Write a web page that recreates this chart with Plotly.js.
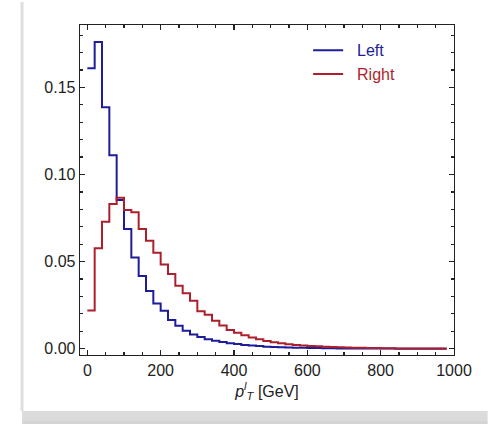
<!DOCTYPE html>
<html>
<head>
<meta charset="utf-8">
<script src="https://cdn.plot.ly/plotly-3.0.1.min.js"></script>
<style>html,body{margin:0;padding:0;background:#fff;}</style>
</head>
<body>
<div id="chart" style="width:489px;height:424px;"></div>
<script>
// Bin edges (GeV), 20 GeV bins
var binEdges = [0,20,40,60,80,100,120,140,160,180,200,220,240,260,280,300,320,340,360,380,
  400,420,440,460,480,500,520,540,560,580,600,620,640,660,680,700,720,740,760,780,
  800,820,840,860,880,900,920,940,960,980];

// Normalised distribution, "Left" (one value per bin)
var leftValues = [0.161,0.176,0.1386,0.111,0.0854,0.0687,0.0523,0.0417,0.0331,0.0260,
  0.0218,0.0165,0.0132,0.0103,0.0082,0.0067,0.0055,0.0046,0.0038,0.0032,
  0.0027,0.0022,0.0018,0.0015,0.0012,0.0010,0.0008,0.0007,0.0006,0.0005,
  0.0004,0.00035,0.0003,0.00025,0.0002,0.00017,0.00014,0.00012,0.0001,0.00008,
  0.00007,0.00006,0.00005,0.00004,0.00003,0.00003,0.00002,0.00002,0.00001];

// Normalised distribution, "Right" (one value per bin)
var rightValues = [0.0220,0.0576,0.0729,0.0831,0.0867,0.0796,0.0783,0.0687,0.0620,0.0551,
  0.0484,0.0429,0.0362,0.0318,0.0276,0.0215,0.0195,0.0161,0.0134,0.0107,
  0.0092,0.0077,0.0065,0.0054,0.0044,0.0037,0.0031,0.0026,0.0022,0.0019,
  0.0016,0.0014,0.0012,0.0010,0.0008,0.0007,0.0006,0.0005,0.0004,0.00035,
  0.0003,0.00025,0.0002,0.00017,0.00014,0.00012,0.0001,0.00008,0.00007];

var seriesNames = ['Left', 'Right'];
var xTickVals = [0, 200, 400, 600, 800, 1000];
var yTickVals = [0.00, 0.05, 0.10, 0.15];

var blue = '#1d1d9c';
var red = '#ad1f2c';
var fontFam = 'Liberation Sans, Arial, sans-serif';

function stepY(vals) { return vals.concat([vals[vals.length - 1]]); }

var traces = [
  {x: binEdges, y: stepY(leftValues), type: 'scatter', mode: 'lines',
   line: {shape: 'hv', color: blue, width: 2},
   name: '<span style="color:' + blue + '">\u00a0\u00a0' + seriesNames[0] + '</span>'},
  {x: binEdges, y: stepY(rightValues), type: 'scatter', mode: 'lines',
   line: {shape: 'hv', color: red, width: 2},
   name: '<span style="color:' + red + '">\u00a0\u00a0' + seriesNames[1] + '</span>'}
];

var axisCommon = {
  showgrid: false, zeroline: false, showline: true, linecolor: '#222', linewidth: 1.3,
  mirror: 'ticks', ticks: 'inside', ticklen: 5, tickwidth: 1.2, tickcolor: '#222',
  tickfont: {family: fontFam, size: 16, color: '#222'}
};

var layout = {
  width: 489, height: 424,
  margin: {l: 80, r: 35, t: 25, b: 69},
  paper_bgcolor: '#fff', plot_bgcolor: '#fff',
  showlegend: true,
  legend: {x: 0.61, y: 0.975, xanchor: 'left', yanchor: 'top', bgcolor: 'rgba(0,0,0,0)',
    font: {family: fontFam, size: 16}, tracegroupgap: 0},
  xaxis: Object.assign({}, axisCommon, {
    range: [-20, 1000], tickvals: xTickVals, ticktext: xTickVals.map(String),
    minor: {dtick: 50, tick0: 0, ticks: 'inside', ticklen: 3, tickcolor: '#222'},
    title: {text: '<i>p</i><sup><i>l</i></sup><sub><i>T</i></sub> [GeV]',
      font: {family: fontFam, size: 16, color: '#222'}, standoff: 8}
  }),
  yaxis: Object.assign({}, axisCommon, {
    range: [-0.0036, 0.1858], tickvals: yTickVals, tickformat: '.2f',
    minor: {dtick: 0.01, tick0: 0, ticks: 'inside', ticklen: 3, tickcolor: '#222'}
  }),
  shapes: [
    {type: 'line', xref: 'paper', yref: 'paper', x0: -0.155, x1: -0.155, y0: -0.17, y1: 1.07,
     line: {color: 'rgba(200,200,200,0.6)', width: 3}},
    {type: 'rect', xref: 'paper', yref: 'paper', x0: -0.155, x1: 1.09, y0: -0.2, y1: -0.17,
     fillcolor: 'rgba(190,190,190,0.55)', line: {width: 0}},
    {type: 'rect', xref: 'paper', yref: 'paper', x0: -0.155, x1: 1.09, y0: -0.23, y1: -0.2,
     fillcolor: 'rgba(160,160,160,0.45)', line: {width: 0}}
  ]
};

Plotly.newPlot('chart', traces, layout, {displayModeBar: false, staticPlot: true});
</script>
</body>
</html>
